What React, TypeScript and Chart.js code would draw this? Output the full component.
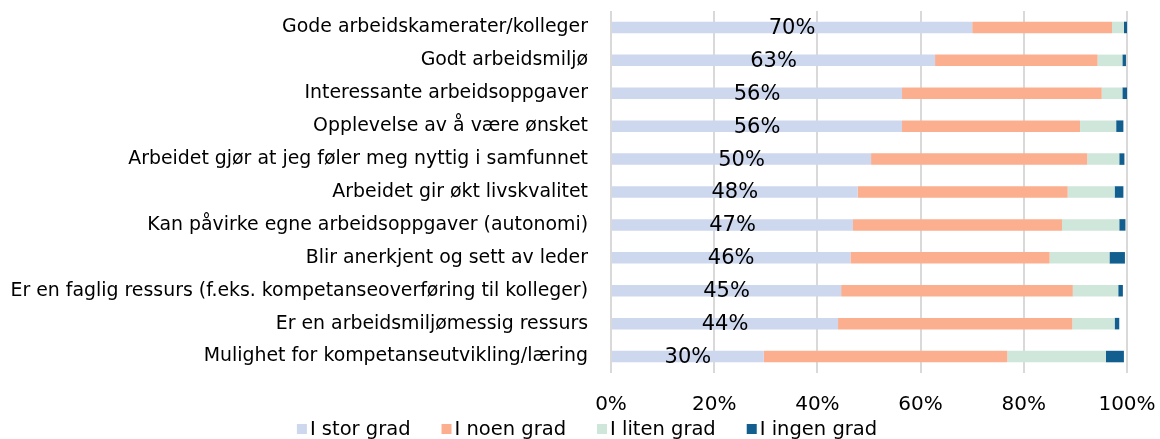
import React, { useEffect, useRef } from "react";
import { Chart, registerables } from "chart.js";

Chart.register(...registerables);

const categories = [
  "Gode arbeidskamerater/kolleger",
  "Godt arbeidsmiljø",
  "Interessante arbeidsoppgaver",
  "Opplevelse av å være ønsket",
  "Arbeidet gjør at jeg føler meg nyttig i samfunnet",
  "Arbeidet gir økt livskvalitet",
  "Kan påvirke egne arbeidsoppgaver (autonomi)",
  "Blir anerkjent og sett av leder",
  "Er en faglig ressurs (f.eks. kompetanseoverføring til kolleger)",
  "Er en arbeidsmiljømessig ressurs",
  "Mulighet for kompetanseutvikling/læring",
];

const iStorGrad = [70.0, 62.8, 56.4, 56.4, 50.4, 47.8, 46.9, 46.4, 44.6, 44.0, 29.6];
const iNoenGrad = [27.1, 31.5, 38.7, 34.5, 41.9, 40.7, 40.5, 38.6, 44.9, 45.4, 47.2];
const iLitenGrad = [2.3, 4.8, 4.0, 7.0, 6.2, 9.1, 11.1, 11.6, 8.8, 8.2, 19.1];
const iIngenGrad = [0.6, 0.7, 0.9, 1.4, 1.0, 1.7, 1.2, 3.0, 0.9, 0.9, 3.5];

const seriesNames = ["I stor grad", "I noen grad", "I liten grad", "I ingen grad"];
const xTicks = [0, 20, 40, 60, 80, 100];

const FONT = "'DejaVu Sans', sans-serif";

const valueLabelPlugin = {
  id: "valueLabels",
  afterDatasetsDraw(chart: any) {
    const meta = chart.getDatasetMeta(0);
    const ctx = chart.ctx;
    ctx.save();
    ctx.font = `21px ${FONT}`;
    ctx.fillStyle = "#000";
    ctx.textAlign = "center";
    ctx.textBaseline = "middle";
    meta.data.forEach((el: any, i: number) => {
      const v = chart.data.datasets[0].data[i];
      const cx = (el.x + el.base) / 2;
      ctx.fillText(`${Math.round(v)}%`, cx, el.y + 1);
    });
    ctx.restore();
  },
};

const legendPlugin = {
  id: "customLegend",
  afterDraw(chart: any) {
    const ctx = chart.ctx;
    const ds = chart.data.datasets;
    ctx.save();
    ctx.font = `19.5px ${FONT}`;
    ctx.textBaseline = "middle";
    ctx.textAlign = "left";
    const box = 10;
    const gapBoxText = 3;
    const gapItems = 31;
    const widths = ds.map((d: any) => ctx.measureText(d.label).width);
    const total =
      widths.reduce((a: number, b: number) => a + b, 0) +
      ds.length * (box + gapBoxText) +
      (ds.length - 1) * gapItems;
    let x = 587 - total / 2;
    const y = 429;
    ds.forEach((d: any, i: number) => {
      ctx.fillStyle = d.backgroundColor;
      ctx.fillRect(x, y - box / 2, box, box);
      x += box + gapBoxText;
      ctx.fillStyle = "#000";
      ctx.fillText(d.label, x, y + 1);
      x += widths[i] + gapItems;
    });
    ctx.restore();
  },
};

export default function App() {
  const ref = useRef<HTMLCanvasElement | null>(null);

  useEffect(() => {
    if (!ref.current) return;
    const colors = ["#CDD7EE", "#FBAF8F", "#CFE7DA", "#115E8F"];
    const values = [iStorGrad, iNoenGrad, iLitenGrad, iIngenGrad];
    const chart = new Chart(ref.current, {
      type: "bar",
      data: {
        labels: categories,
        datasets: seriesNames.map((name, i) => ({
          label: name,
          data: values[i],
          backgroundColor: colors[i],
          borderWidth: 0,
          categoryPercentage: 1,
          barPercentage: 0.35,
        })),
      },
      options: {
        indexAxis: "y",
        animation: false,
        responsive: false,
        layout: { padding: { top: 11, right: 33, left: 0, bottom: 0 } },
        scales: {
          x: {
            stacked: true,
            min: 0,
            max: 100,
            afterBuildTicks: (scale: any) => {
              scale.ticks = xTicks.map((v) => ({ value: v }));
            },
            afterFit: (scale: any) => {
              scale.paddingLeft = 0;
              scale.paddingRight = 0;
              scale.paddingBottom = 0;
              scale.height = 66;
            },
            ticks: {
              callback: (v: any) => `${v}%`,
              color: "#000",
              font: { family: FONT, size: 20 },
              padding: 20,
              maxRotation: 0,
            },
            grid: { color: "#D9D9D9", lineWidth: 2, drawTicks: false },
            border: { display: false },
          },
          y: {
            stacked: true,
            afterFit: (scale: any) => {
              scale.width = 611;
              scale.paddingTop = 0;
              scale.paddingBottom = 0;
            },
            ticks: {
              color: "#000",
              font: { family: FONT, size: 18.9 },
              padding: 23,
              autoSkip: false,
            },
            grid: { display: false, drawTicks: false },
            border: { display: false },
          },
        },
        plugins: {
          legend: { display: false },
          tooltip: { enabled: false },
        },
      },
      plugins: [valueLabelPlugin, legendPlugin],
    } as any);
    return () => chart.destroy();
  }, []);

  return (
    <div style={{ position: "absolute", left: 0, top: 0, width: 1160, height: 439, background: "#fff" }}>
      <canvas ref={ref} width={1160} height={439} style={{ width: 1160, height: 439 }} />
    </div>
  );
}
